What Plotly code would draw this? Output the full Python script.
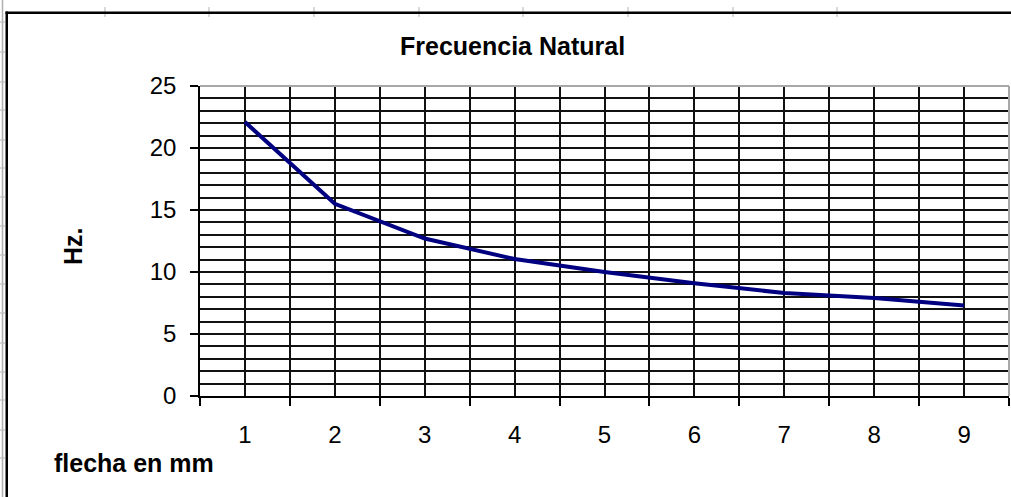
import plotly.graph_objects as go

# data
flecha_mm = [1, 2, 3, 4, 5, 6, 7, 8, 9]
frecuencia_hz = [22.1, 15.5, 12.7, 11.05, 10.0, 9.1, 8.3, 7.9, 7.3]

titulo = "Frecuencia Natural"
titulo_y = "Hz."
titulo_x = "flecha en mm"

W, H = 1011, 497
L, R, T, B = 200, 2, 86, 101
PW, PH = W - L - R, H - T - B
FONT = "Liberation Sans, Arial, sans-serif"


def px(x):
    return (x - L) / PW


def py(y):
    return (H - B - y) / PH


fig = go.Figure()
fig.add_trace(go.Scatter(
    x=flecha_mm, y=frecuencia_hz,
    mode="lines",
    line=dict(color="#000080", width=4),
    hoverinfo="x+y",
))

fig.update_xaxes(
    range=[0.5, 9.5],
    tickvals=flecha_mm,
    ticks="", showgrid=True, gridcolor="#111", gridwidth=1.5,
    showline=True, linecolor="#000", linewidth=1.6,
    ticklabelstandoff=16,
    minor=dict(tick0=0.5, dtick=1, ticks="outside", ticklen=8,
               tickcolor="#000", tickwidth=1.5,
               showgrid=True, gridcolor="#111", gridwidth=1.5),
    zeroline=False,
    tickfont=dict(family=FONT, size=24, color="#000"),
)
fig.update_yaxes(
    range=[0, 25], dtick=5,
    ticks="outside", ticklen=8, tickcolor="#000", tickwidth=1.5,
    showgrid=True, gridcolor="#111", gridwidth=1.5,
    showline=True, linecolor="#000", linewidth=1.6,
    ticklabelstandoff=9,
    minor=dict(dtick=1, showgrid=True, gridcolor="#111", gridwidth=1.5),
    zeroline=False,
    tickfont=dict(family=FONT, size=24, color="#000"),
)

shapes = []
# plot area border (grey top and right)
shapes.append(dict(type="line", xref="paper", yref="paper", x0=0, x1=1, y0=1, y1=1,
                   line=dict(color="#a8a8a8", width=2), layer="above"))
shapes.append(dict(type="line", xref="paper", yref="paper", x0=1, x1=1, y0=0, y1=1,
                   line=dict(color="#a8a8a8", width=2), layer="above"))
# sheet frame: column/row separators first, then the black borders over them
shapes.append(dict(type="line", xref="paper", yref="paper", x0=px(2.5), x1=px(2.5), y0=py(0), y1=py(H),
                   line=dict(color="#b0b0b0", width=1.5)))
for cx in [105, 209, 314, 419, 523, 628, 733, 837]:
    shapes.append(dict(type="line", xref="paper", yref="paper", x0=px(cx), x1=px(cx), y0=py(7), y1=py(17),
                       line=dict(color="#c0c0c0", width=1.2)))
for ry in [22, 52, 82, 110, 140, 168, 197, 226, 255, 284, 313, 343, 372, 400, 430, 458]:
    shapes.append(dict(type="line", xref="paper", yref="paper", x0=px(0), x1=px(5), y0=py(ry), y1=py(ry),
                       line=dict(color="#c0c0c0", width=1.2)))
shapes.append(dict(type="rect", xref="paper", yref="paper", x0=px(5.5), x1=px(W), y0=py(14), y1=py(11.5),
                   line=dict(width=0), fillcolor="#000", layer="above"))
shapes.append(dict(type="rect", xref="paper", yref="paper", x0=px(5.5), x1=px(8), y0=py(H), y1=py(11.5),
                   line=dict(width=0), fillcolor="#000", layer="above"))

annotations = [
    dict(text="<b>%s</b>" % titulo, xref="paper", yref="paper", x=px(512), y=py(46),
         xanchor="center", yanchor="middle", showarrow=False,
         font=dict(family=FONT, size=25, color="#000")),
    dict(text="<b>%s</b>" % titulo_y, xref="paper", yref="paper", x=px(73), y=py(246),
         xanchor="center", yanchor="middle", showarrow=False, textangle=-90,
         font=dict(family=FONT, size=25, color="#000")),
    dict(text="<b>%s</b>" % titulo_x, xref="paper", yref="paper", x=px(52), y=py(463),
         xanchor="left", yanchor="middle", showarrow=False,
         font=dict(family=FONT, size=25, color="#000")),
]

fig.update_layout(
    width=W, height=H,
    margin=dict(l=L, r=R, t=T, b=B),
    paper_bgcolor="#fff", plot_bgcolor="#fff",
    showlegend=False,
    shapes=shapes,
    annotations=annotations,
)

# drop the default 8px body margin so the figure sits at the window origin
fig.write_html("out.html", config={"displayModeBar": False},
               post_script="document.body.style.margin='0';")
